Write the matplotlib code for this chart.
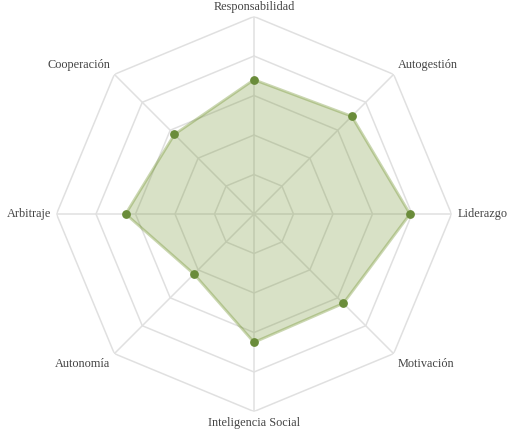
import numpy as np
import matplotlib
matplotlib.use("Agg")
import matplotlib.pyplot as plt

categories = ["Responsabilidad", "Autogestión", "Liderazgo", "Motivación",
              "Inteligencia Social", "Autonomía", "Arbitraje", "Cooperación"]
values = [68, 70, 79, 64, 65, 43, 65, 57]
rmax = 100
rings = [20, 40, 60, 80, 100]

plt.rcParams['font.family'] = ['Liberation Serif', 'DejaVu Serif']

fig = plt.figure(figsize=(5.15, 4.3), dpi=100)
ax = fig.add_axes([0.1097, 0.043, 0.767, 0.9186], projection='polar')
ax.set_theta_zero_location('N')
ax.set_theta_direction(-1)
ax.set_ylim(0, rmax)
ax.axis('off')

n = len(categories)
theta = np.linspace(0, 2 * np.pi, n, endpoint=False)
theta_c = np.append(theta, theta[0])

grid_color = '#e0e0e0'
for r in rings:
    ax.plot(theta_c, [r] * (n + 1), color=grid_color, lw=1.1, zorder=1)
for t in theta:
    ax.plot([t, t], [0, rmax], color=grid_color, lw=1.1, zorder=1)

vals_c = values + values[:1]
ax.fill(theta_c, vals_c, color='#6b8e23', alpha=0.26, lw=0, zorder=2)
ax.plot(theta_c, vals_c, color='#6b8e23', alpha=0.35, lw=2, zorder=3)
ax.scatter(theta, values, s=28, color='#6a8c3a', zorder=4, clip_on=False)

offsets = [((0, 4), 'center', 'bottom'),
           ((4, 3), 'left', 'bottom'),
           ((6, 0), 'left', 'center'),
           ((4, -4), 'left', 'top'),
           ((0, -5), 'center', 'top'),
           ((-4, -4), 'right', 'top'),
           ((-5, 0), 'right', 'center'),
           ((-4, 3), 'right', 'bottom')]
for t, lab, (off, ha, va) in zip(theta, categories, offsets):
    ax.annotate(lab, xy=(t, rmax), xytext=off, textcoords='offset pixels',
                ha=ha, va=va, fontsize=8.8, color='#444444', annotation_clip=False)

fig.savefig('out.png', dpi=100)
